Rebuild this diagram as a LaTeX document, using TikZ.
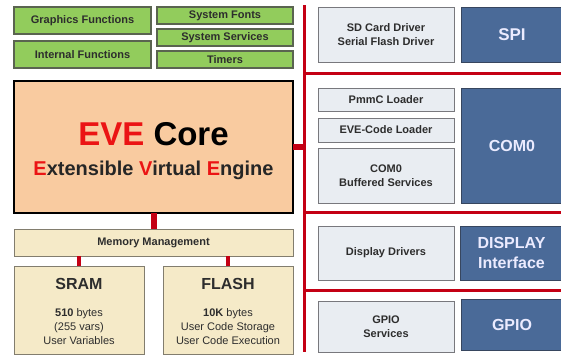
\documentclass[tikz,border=0pt]{standalone}
\usepackage{fontspec}
\setmainfont{Liberation Sans}
\definecolor{gfill}{RGB}{146,204,92}
\definecolor{gline}{RGB}{90,100,80}
\definecolor{peach}{RGB}{249,203,160}
\definecolor{cream}{RGB}{245,234,200}
\definecolor{creamline}{RGB}{130,125,110}
\definecolor{lgray}{RGB}{233,237,242}
\definecolor{grayline}{RGB}{120,120,125}
\definecolor{bluefill}{RGB}{74,106,152}
\definecolor{blueline}{RGB}{55,70,95}
\definecolor{busred}{RGB}{196,0,20}
\definecolor{evered}{RGB}{235,20,20}
\definecolor{txt}{RGB}{45,45,45}
\begin{document}
\begin{tikzpicture}[x=1pt,y=-1pt,
  every node/.style={inner sep=0pt, outer sep=0pt, anchor=north west, align=center},
  smallfont/.style={font=\fontsize{11}{14}\selectfont\bfseries, text=txt},
  greenbox/.style={draw=gline, line width=1.3pt, fill=gfill, smallfont},
  graybox/.style={draw=grayline, line width=0.9pt, fill=lgray, smallfont},
  bluebox/.style={draw=blueline, line width=0.9pt, fill=bluefill, text=white!92!blue,
     font=\fontsize{16}{20}\selectfont\bfseries},
  creambox/.style={draw=creamline, line width=0.9pt, fill=cream},
  corebox/.style={draw=black, line width=1.8pt, fill=peach},
  lbl/.style={anchor=base, text=txt},
  bus/.style={draw=busred, line width=3pt},
]
\useasboundingbox (0,0) rectangle (561,356);
% green function boxes
\node[greenbox, minimum width=137pt, minimum height=27pt] (gf) at (14,7) {Graphics Functions};
\node[greenbox, minimum width=137pt, minimum height=27pt] (inf) at (14,41) {Internal Functions};
\node[greenbox, minimum width=136pt, minimum height=17pt] (sf) at (157,7) {System Fonts};
\node[greenbox, minimum width=136pt, minimum height=17pt] (ss) at (157,29) {System Services};
\node[greenbox, minimum width=136pt, minimum height=17pt] (tm) at (157,51) {Timers};
% core
\node[corebox, minimum width=279pt, minimum height=132pt] (eve) at (14,81) {};
\node[lbl, text=black, font=\fontsize{33}{36}\selectfont\bfseries] (evet) at (153.5,145)
  {\textcolor{evered}{EVE} Core};
\node[lbl, text=black!85, font=\fontsize{20}{24}\selectfont\bfseries] (eves) at (153.5,175)
  {\textcolor{evered}{E}xtensible \textcolor{evered}{V}irtual \textcolor{evered}{E}ngine};
% memory
\node[creambox, smallfont, minimum width=279pt, minimum height=27pt] (mm) at (14,229) {Memory Management};
\node[creambox, minimum width=130pt, minimum height=88pt] (sram) at (14,266) {};
\node[creambox, minimum width=130pt, minimum height=88pt] (flash) at (163,266) {};
\node[lbl, font=\fontsize{16}{18}\selectfont\bfseries] (sramt) at (79,289) {SRAM};
\node[lbl, font=\fontsize{11}{13}\selectfont] (sram1) at (79,316) {\textbf{510} bytes};
\node[lbl, font=\fontsize{11}{13}\selectfont] (sram2) at (79,330) {(255 vars)};
\node[lbl, font=\fontsize{11}{13}\selectfont] (sram3) at (79,344) {User Variables};
\node[lbl, font=\fontsize{16}{18}\selectfont\bfseries] (flasht) at (228,289) {FLASH};
\node[lbl, font=\fontsize{11}{13}\selectfont] (flash1) at (228,316) {\textbf{10K} bytes};
\node[lbl, font=\fontsize{11}{13}\selectfont] (flash2) at (228,330) {User Code Storage};
\node[lbl, font=\fontsize{11}{13}\selectfont] (flash3) at (228,344) {User Code Execution};
% right side
\node[graybox, minimum width=136pt, minimum height=55pt] (sd) at (318,7) {SD Card Driver\\Serial Flash Driver};
\node[bluebox, minimum width=102pt, minimum height=55pt, font=\fontsize{17}{20}\selectfont\bfseries] (spi) at (461,7) {SPI};
\node[graybox, minimum width=136pt, minimum height=23pt] (pmmc) at (318,88) {PmmC Loader};
\node[graybox, minimum width=136pt, minimum height=24pt] (evec) at (318,118) {EVE-Code Loader};
\node[graybox, minimum width=136pt, minimum height=55pt] (cbs) at (318,148) {COM0\\Buffered Services};
\node[bluebox, minimum width=102pt, minimum height=115pt] (com0) at (461,88) {COM0};
\node[graybox, minimum width=136pt, minimum height=54pt] (dd) at (318,226) {Display Drivers};
\node[bluebox, minimum width=103pt, minimum height=54pt] (disp) at (460,226) {DISPLAY\\Interface};
\node[graybox, minimum width=136pt, minimum height=51pt] (gps) at (318,301) {GPIO\\Services};
\node[bluebox, minimum width=102pt, minimum height=51pt] (gpio) at (461,299) {GPIO};
% bus coordinates
\coordinate (bt) at (304,5);
\coordinate (bb) at (304,352);
\coordinate (r1) at (562,73);
\coordinate (r2) at (562,212);
\coordinate (r3) at (562,290);
% bus lines
\draw[bus] (bt) -- (bb);
\draw[bus] (r1 -| bt) -- (r1);
\draw[bus] (r2 -| bt) -- (r2);
\draw[bus] (r3 -| bt) -- (r3);
\draw[draw=busred, line width=6.5pt] (eve.east) -- (eve.east -| bt);
\draw[draw=busred, line width=6pt] (eve.south) -- (mm.north);
\draw[draw=busred, line width=3.5pt] (mm.south -| sram.north) -- (sram.north);
\draw[draw=busred, line width=3.5pt] (mm.south -| flash.north) -- (flash.north);
\end{tikzpicture}
\end{document}
